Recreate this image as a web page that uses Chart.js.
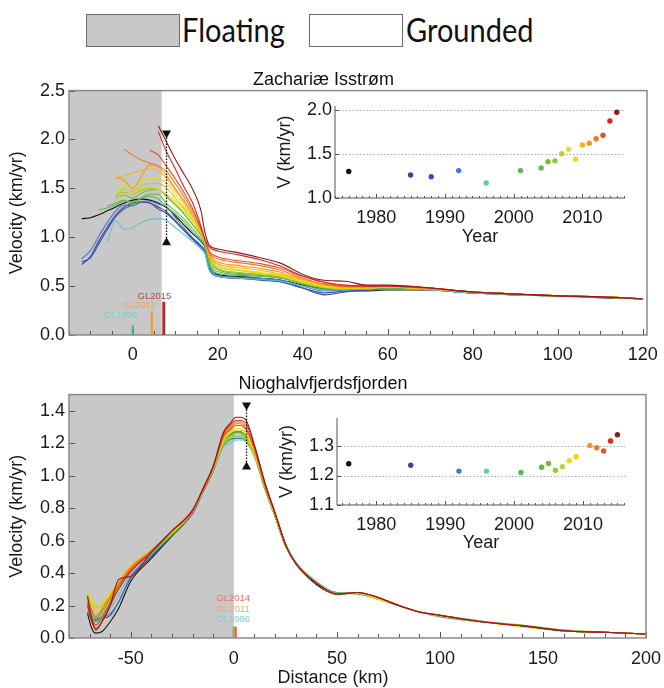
<!DOCTYPE html>
<html>
<head>
<meta charset="utf-8">
<script src="https://cdn.jsdelivr.net/npm/chart.js@4.4.1/dist/chart.umd.min.js"></script>
<style>
  body { margin: 0; width: 664px; height: 688px; background: #fff; position: relative; overflow: hidden; }
  canvas { position: absolute; }
  .key { position: absolute; top: 14px; width: 94px; height: 33px; box-sizing: border-box; border: 1.5px solid #6a6a6a; }
  .keytext { position: absolute; top: 12px; font-family: Lato, sans-serif; font-size: 29px; line-height: 36px; color: #111; transform: scaleY(1.12); transform-origin: 0 50%; }
</style>
</head>
<body>
<div class="key" style="left:86px;background:#c8c8c8"></div>
<div class="keytext" style="left:182px">Floating</div>
<div class="key" style="left:309px;background:#fff"></div>
<div class="keytext" style="left:406px">Grounded</div>
<canvas id="zach" width="664" height="310" style="left:0;top:60px"></canvas>
<canvas id="zachInset" width="380" height="160" style="left:270px;top:95px"></canvas>
<canvas id="nio" width="664" height="323" style="left:0;top:365px"></canvas>
<canvas id="nioInset" width="380" height="160" style="left:272px;top:407px"></canvas>
<script>
// Zachariæ Isstrøm: velocity profiles along the flow line
const zachYears = [1976, 1985, 1988, 1992, 1996, 2001, 2004, 2005, 2006, 2007, 2008, 2009, 2010, 2011, 2012, 2013, 2014, 2015];
const zachColors = ['#111111', '#4b3c9c', '#3550b2', '#3a7ad0', '#5ec8c6', '#5cb84a', '#64b83c', '#78c034', '#8cc43a', '#b6d22c', '#e4dc1e', '#f6d400', '#f8b414', '#f89622', '#f27622', '#e8501e', '#e22222', '#8e1c1c'];
const zachKm = [-12, -10, -8, -6, -4, -2, 0, 2, 4, 6, 8, 10, 12, 14, 16, 17, 18, 20, 25, 30, 35, 40, 45, 50, 55, 60, 70, 80, 90, 100, 110, 120];
const z1976 = [1.19, 1.20, 1.23, 1.27, 1.31, 1.35, 1.38, 1.39, 1.38, 1.35, 1.30, 1.22, 1.13, 1.04, 0.96, 0.90, 0.72, 0.62, 0.60, 0.58, 0.56, 0.51, 0.47, 0.45, 0.45, 0.46, 0.46, 0.44, 0.42, 0.40, 0.39, 0.37];
const z1985 = [0.72, 0.80, 0.96, 1.10, 1.23, 1.31, 1.35, 1.36, 1.35, 1.31, 1.26, 1.17, 1.08, 0.99, 0.91, 0.85, 0.68, 0.60, 0.58, 0.57, 0.55, 0.48, 0.41, 0.44, 0.46, 0.47, 0.46, 0.43, 0.41, 0.40, 0.39, 0.37];
const z1988 = [0.75, 0.79, 0.93, 1.08, 1.21, 1.29, 1.33, 1.36, 1.35, 1.29, 1.24, 1.16, 1.07, 0.98, 0.90, 0.84, 0.67, 0.60, 0.58, 0.56, 0.54, 0.48, 0.43, 0.45, 0.46, 0.47, 0.46, 0.43, 0.41, 0.40, 0.38, 0.37];
const z1992 = [0.78, 0.86, 1.01, 1.15, 1.27, 1.33, 1.32, 1.36, 1.37, 1.34, 1.31, 1.20, 1.10, 1.00, 0.92, 0.86, 0.69, 0.61, 0.59, 0.58, 0.56, 0.50, 0.45, 0.46, 0.47, 0.48, 0.46, 0.43, 0.41, 0.40, 0.39, 0.37];
const z1996 = [null, null, null, 0.95, 1.17, 1.08, 1.10, 1.15, 1.18, 1.19, 1.17, 1.10, 1.03, 0.96, 0.88, 0.83, 0.66, 0.60, 0.58, 0.57, 0.55, 0.50, 0.46, 0.46, 0.47, 0.47, 0.46, 0.43, 0.41, 0.40, 0.39, 0.37];
const z2001 = [null, null, 1.28, 1.30, 1.33, 1.37, 1.36, 1.40, 1.42, 1.39, 1.31, 1.24, 1.16, 1.06, 0.97, 0.91, 0.72, 0.63, 0.61, 0.60, 0.58, 0.52, 0.47, 0.47, 0.47, 0.48, 0.47, 0.44, 0.42, 0.40, 0.39, 0.37];
const z2004 = [null, null, null, 1.32, 1.35, 1.38, 1.33, 1.40, 1.44, 1.44, 1.34, 1.27, 1.19, 1.09, 0.99, 0.93, 0.74, 0.65, 0.62, 0.61, 0.58, 0.53, 0.48, 0.47, 0.48, 0.48, 0.47, 0.44, 0.42, 0.40, 0.39, 0.37];
const z2005 = [null, null, null, null, 1.40, 1.43, 1.40, 1.45, 1.48, 1.49, 1.41, 1.33, 1.24, 1.13, 1.02, 0.95, 0.77, 0.67, 0.63, 0.62, 0.59, 0.53, 0.49, 0.47, 0.48, 0.49, 0.47, 0.44, 0.42, 0.40, 0.39, 0.37];
const z2006 = [null, null, null, null, 1.42, 1.46, 1.44, 1.48, 1.50, 1.49, 1.42, 1.34, 1.25, 1.14, 1.03, 0.95, 0.78, 0.68, 0.64, 0.62, 0.60, 0.54, 0.49, 0.48, 0.48, 0.49, 0.47, 0.44, 0.42, 0.40, 0.39, 0.37];
const z2007 = [null, null, null, null, 1.42, 1.50, 1.47, 1.53, 1.55, 1.55, 1.50, 1.40, 1.30, 1.18, 1.05, 0.96, 0.80, 0.70, 0.66, 0.63, 0.60, 0.54, 0.50, 0.48, 0.49, 0.49, 0.47, 0.44, 0.42, 0.40, 0.39, 0.37];
const z2008 = [null, null, null, null, 1.45, 1.55, 1.52, 1.58, 1.60, 1.60, 1.55, 1.44, 1.33, 1.21, 1.08, 0.97, 0.82, 0.72, 0.67, 0.64, 0.61, 0.55, 0.50, 0.48, 0.49, 0.49, 0.47, 0.44, 0.42, 0.40, 0.39, 0.37];
const z2009 = [null, null, null, null, 1.38, 1.45, 1.45, 1.50, 1.51, 1.49, 1.44, 1.37, 1.28, 1.17, 1.05, 0.96, 0.80, 0.70, 0.66, 0.63, 0.60, 0.54, 0.49, 0.48, 0.48, 0.49, 0.47, 0.44, 0.42, 0.40, 0.39, 0.37];
const z2010 = [null, null, null, null, 1.60, 1.63, 1.66, 1.68, 1.70, 1.68, 1.60, 1.48, 1.36, 1.22, 1.06, 0.96, 0.80, 0.73, 0.69, 0.66, 0.62, 0.56, 0.51, 0.49, 0.49, 0.50, 0.47, 0.44, 0.42, 0.40, 0.39, 0.37];
const z2011 = [null, null, null, null, 1.62, 1.58, 1.50, 1.62, 1.74, 1.72, 1.63, 1.50, 1.38, 1.24, 1.08, 0.97, 0.82, 0.75, 0.71, 0.68, 0.64, 0.57, 0.52, 0.49, 0.49, 0.50, 0.47, 0.44, 0.42, 0.40, 0.39, 0.37];
const z2012 = [null, null, null, null, null, 1.90, 1.84, 1.79, 1.76, 1.73, 1.67, 1.55, 1.42, 1.27, 1.09, 0.97, 0.84, 0.78, 0.74, 0.71, 0.66, 0.58, 0.52, 0.50, 0.50, 0.50, 0.48, 0.44, 0.42, 0.40, 0.39, 0.37];
const z2013 = [null, null, null, null, null, null, null, null, 1.89, 1.84, 1.72, 1.60, 1.46, 1.30, 1.10, 0.98, 0.86, 0.80, 0.76, 0.73, 0.68, 0.60, 0.54, 0.50, 0.50, 0.50, 0.48, 0.44, 0.42, 0.40, 0.39, 0.37];
const z2014 = [null, null, null, null, null, null, null, null, null, 2.08, 1.87, 1.70, 1.52, 1.36, 1.12, 0.98, 0.90, 0.86, 0.82, 0.77, 0.70, 0.60, 0.54, 0.51, 0.50, 0.50, 0.48, 0.44, 0.42, 0.40, 0.39, null];
const z2015 = [null, null, null, null, null, null, null, null, null, 2.14, 1.97, 1.80, 1.65, 1.50, 1.28, 1.05, 0.92, 0.88, 0.84, 0.79, 0.73, 0.62, 0.56, 0.55, 0.51, 0.51, 0.48, 0.44, 0.42, 0.40, 0.39, 0.37];
const zachSeries = [z1976, z1985, z1988, z1992, z1996, z2001, z2004, z2005, z2006, z2007, z2008, z2009, z2010, z2011, z2012, z2013, z2014, z2015];
// speed at the marker position, per year (inset)
const zachInsetV = [1.30, 1.26, 1.24, 1.31, 1.17, 1.31, 1.34, 1.41, 1.42, 1.50, 1.55, 1.44, 1.60, 1.62, 1.67, 1.71, 1.87, 1.97];

// Nioghalvfjerdsfjorden
const nioYears = [1976, 1985, 1992, 1996, 2001, 2004, 2005, 2006, 2007, 2008, 2009, 2011, 2012, 2013, 2014, 2015];
const nioColors = ['#111111', '#4b3c9c', '#3a7ad0', '#5ec8c6', '#5cb84a', '#64b83c', '#70bc36', '#96c83a', '#b6d22c', '#e4dc1e', '#f6d400', '#f89622', '#f27622', '#e8501e', '#e22222', '#8e1c1c'];
const nioKm = [-71, -69, -67, -64, -60, -56, -50, -40, -30, -20, -15, -10, -5, -2, 1, 3, 6, 10, 15, 20, 25, 30, 40, 50, 60, 70, 80, 90, 100, 120, 140, 160, 180, 200];
const n1976 = [0.15, 0.06, 0.03, 0.04, 0.10, 0.18, 0.35, 0.49, 0.63, 0.77, 0.90, 1.03, 1.20, 1.25, 1.27, 1.27, 1.24, 1.14, 0.93, 0.75, 0.57, 0.46, 0.33, 0.27, 0.28, 0.24, 0.20, 0.16, 0.14, 0.10, 0.075, 0.045, 0.035, 0.025];
const n1985 = [0.16, 0.12, 0.11, 0.12, 0.14, 0.22, 0.37, 0.50, 0.63, 0.77, 0.90, 1.03, 1.21, 1.25, 1.26, 1.26, 1.235, 1.14, 0.93, 0.75, 0.57, 0.46, 0.34, 0.27, 0.28, 0.24, 0.20, 0.16, 0.14, 0.10, 0.075, 0.045, 0.035, 0.025];
const n1992 = [0.16, 0.13, 0.12, 0.13, 0.15, 0.22, 0.38, 0.51, 0.64, 0.77, 0.90, 1.03, 1.19, 1.22, 1.23, 1.23, 1.215, 1.12, 0.92, 0.75, 0.58, 0.47, 0.34, 0.28, 0.28, 0.24, 0.20, 0.16, 0.14, 0.105, 0.075, 0.045, 0.035, 0.025];
const n1996 = [0.17, 0.12, 0.10, 0.12, 0.18, 0.26, 0.40, 0.52, 0.64, 0.78, 0.90, 1.03, 1.18, 1.20, 1.22, 1.22, 1.215, 1.13, 0.93, 0.76, 0.58, 0.47, 0.35, 0.28, 0.28, 0.24, 0.20, 0.16, 0.14, 0.105, 0.075, 0.045, 0.035, 0.025];
const n2001 = [0.22, 0.14, 0.10, 0.14, 0.22, 0.30, 0.42, 0.52, 0.64, 0.78, 0.90, 1.03, 1.19, 1.22, 1.24, 1.24, 1.21, 1.12, 0.92, 0.75, 0.58, 0.46, 0.34, 0.28, 0.27, 0.24, 0.20, 0.16, 0.13, 0.10, 0.08, 0.05, 0.035, 0.025];
const n2004 = [0.20, 0.12, 0.08, 0.13, 0.22, 0.30, 0.42, 0.52, 0.64, 0.78, 0.91, 1.04, 1.20, 1.24, 1.26, 1.26, 1.23, 1.13, 0.93, 0.76, 0.58, 0.46, 0.34, 0.27, 0.28, 0.24, 0.20, 0.16, 0.14, 0.10, 0.075, 0.045, 0.035, 0.025];
const n2005 = [0.24, 0.16, 0.12, 0.16, 0.24, 0.32, 0.43, 0.53, 0.64, 0.78, 0.91, 1.04, 1.21, 1.25, 1.27, 1.27, 1.24, 1.14, 0.93, 0.76, 0.58, 0.46, 0.34, 0.27, 0.28, 0.24, 0.20, 0.16, 0.14, 0.10, 0.075, 0.045, 0.035, 0.025];
const n2006 = [0.27, 0.22, 0.19, 0.20, 0.26, 0.33, 0.44, 0.53, 0.65, 0.78, 0.91, 1.04, 1.20, 1.23, 1.25, 1.25, 1.22, 1.12, 0.93, 0.75, 0.57, 0.46, 0.34, 0.27, 0.28, 0.24, 0.20, 0.16, 0.14, 0.10, 0.075, 0.045, 0.035, 0.025];
const n2007 = [0.26, 0.20, 0.18, 0.20, 0.27, 0.34, 0.44, 0.54, 0.65, 0.78, 0.91, 1.04, 1.21, 1.24, 1.26, 1.26, 1.23, 1.13, 0.93, 0.76, 0.58, 0.46, 0.34, 0.27, 0.28, 0.24, 0.20, 0.16, 0.14, 0.10, 0.075, 0.045, 0.035, 0.025];
const n2008 = [0.28, 0.24, 0.20, 0.22, 0.28, 0.35, 0.45, 0.54, 0.65, 0.78, 0.91, 1.05, 1.22, 1.26, 1.28, 1.28, 1.25, 1.14, 0.94, 0.76, 0.58, 0.46, 0.34, 0.27, 0.28, 0.24, 0.20, 0.16, 0.14, 0.10, 0.07, 0.045, 0.035, 0.025];
const n2009 = [0.27, 0.22, 0.18, 0.21, 0.27, 0.34, 0.44, 0.54, 0.65, 0.78, 0.91, 1.05, 1.23, 1.27, 1.29, 1.29, 1.26, 1.15, 0.94, 0.76, 0.58, 0.46, 0.34, 0.27, 0.28, 0.24, 0.20, 0.16, 0.14, 0.10, 0.07, 0.045, 0.035, 0.025];
const n2011 = [0.25, 0.18, 0.14, 0.18, 0.26, 0.34, 0.44, 0.54, 0.66, 0.78, 0.91, 1.05, 1.25, 1.30, 1.33, 1.33, 1.30, 1.17, 0.95, 0.77, 0.58, 0.46, 0.34, 0.27, 0.28, 0.25, 0.20, 0.16, 0.14, 0.10, 0.075, 0.045, 0.035, 0.025];
const n2012 = [0.24, 0.17, 0.13, 0.17, 0.25, 0.33, 0.43, 0.54, 0.66, 0.78, 0.91, 1.05, 1.25, 1.29, 1.32, 1.32, 1.29, 1.17, 0.95, 0.77, 0.58, 0.46, 0.34, 0.27, 0.28, 0.25, 0.20, 0.16, 0.14, 0.10, 0.075, 0.045, 0.035, 0.025];
const n2013 = [0.22, 0.12, 0.08, 0.12, 0.22, 0.32, 0.42, 0.53, 0.66, 0.78, 0.91, 1.05, 1.24, 1.28, 1.31, 1.31, 1.28, 1.16, 0.94, 0.77, 0.58, 0.46, 0.34, 0.27, 0.28, 0.25, 0.20, 0.16, 0.14, 0.10, 0.075, 0.045, 0.035, 0.025];
const n2014 = [0.20, 0.10, 0.06, 0.10, 0.20, 0.30, 0.41, 0.53, 0.66, 0.79, 0.92, 1.06, 1.26, 1.31, 1.34, 1.34, 1.32, 1.18, 0.96, 0.77, 0.58, 0.46, 0.34, 0.27, 0.28, 0.25, 0.20, 0.16, 0.14, 0.10, 0.075, 0.045, 0.035, 0.025];
const n2015 = [0.26, 0.12, 0.05, 0.10, 0.20, 0.36, 0.38, 0.53, 0.66, 0.79, 0.92, 1.06, 1.27, 1.32, 1.36, 1.36, 1.34, 1.19, 0.96, 0.77, 0.58, 0.46, 0.34, 0.27, 0.28, 0.25, 0.20, 0.16, 0.14, 0.10, 0.075, 0.045, 0.035, 0.025];
const nioSeries = [n1976, n1985, n1992, n1996, n2001, n2004, n2005, n2006, n2007, n2008, n2009, n2011, n2012, n2013, n2014, n2015];
const nioInsetV = [1.24, 1.235, 1.215, 1.215, 1.21, 1.228, 1.241, 1.218, 1.23, 1.25, 1.264, 1.302, 1.294, 1.283, 1.317, 1.338];

Chart.defaults.font.family = '"Liberation Sans", Arial, sans-serif';
Chart.defaults.color = '#1a1a1a';

// shading, frame, inward ticks, markers and grounding-line labels
const decor = {
  id: 'decor',
  beforeDatasetsDraw(chart, args, o) {
    const { ctx, chartArea: a, scales: { x, y } } = chart;
    ctx.save();
    if (o.floatEnd !== undefined) {
      ctx.fillStyle = '#c8c8c8';
      ctx.fillRect(a.left, a.top, x.getPixelForValue(o.floatEnd) - a.left, a.bottom - a.top);
    }
    if (o.dotted) {
      ctx.strokeStyle = '#a8a8a8';
      ctx.lineWidth = 1;
      ctx.setLineDash([1.5, 2]);
      y.ticks.forEach(t => {
        if (t.value <= y.min + 1e-6) return;
        const py = Math.round(y.getPixelForValue(t.value)) + 0.5;
        ctx.beginPath(); ctx.moveTo(a.left, py); ctx.lineTo(a.right, py); ctx.stroke();
      });
    }
    ctx.restore();
  },
  afterDatasetsDraw(chart, args, o) {
    const { ctx, chartArea: a, scales: { x, y } } = chart;
    ctx.save();
    ctx.setLineDash([]);
    ctx.strokeStyle = o.tickColor;
    ctx.lineWidth = 1;
    x.ticks.forEach(t => {
      const px = Math.round(x.getPixelForValue(t.value)) + 0.5;
      const len = t.label !== '' ? o.major : o.minor;
      ctx.beginPath(); ctx.moveTo(px, a.bottom); ctx.lineTo(px, a.bottom - len); ctx.stroke();
    });
    y.ticks.forEach(t => {
      const py = Math.round(y.getPixelForValue(t.value)) + 0.5;
      ctx.beginPath(); ctx.moveTo(a.left, py); ctx.lineTo(a.left + o.major, py); ctx.stroke();
    });
    ctx.strokeStyle = o.frameColor;
    ctx.lineWidth = o.frameWidth;
    if (o.box) {
      ctx.strokeRect(a.left, a.top, a.right - a.left, a.bottom - a.top);
    } else {
      ctx.beginPath(); ctx.moveTo(a.left, a.top); ctx.lineTo(a.left, a.bottom); ctx.lineTo(a.right, a.bottom); ctx.stroke();
    }
    if (o.gl) {
      ctx.font = '9.5px "Liberation Sans", Arial, sans-serif';
      ctx.textAlign = 'center';
      ctx.textBaseline = 'middle';
      o.gl.forEach(g => {
        const px = x.getPixelForValue(g.km);
        ctx.fillStyle = g.bar;
        ctx.fillRect(px - g.w / 2, y.getPixelForValue(g.top), g.w, a.bottom - y.getPixelForValue(g.top));
        ctx.fillStyle = g.text;
        ctx.fillText(g.name, x.getPixelForValue(g.lx), y.getPixelForValue(g.ly));
      });
    }
    if (o.marker) {
      const m = o.marker;
      const px = Math.round(x.getPixelForValue(m.km)) + 0.5;
      const pt = y.getPixelForValue(m.top);
      const pb = y.getPixelForValue(m.bottom);
      ctx.strokeStyle = '#111';
      ctx.lineWidth = 1.3;
      ctx.setLineDash([1.5, 1.5]);
      ctx.beginPath(); ctx.moveTo(px, pt); ctx.lineTo(px, pb); ctx.stroke();
      ctx.setLineDash([]);
      ctx.fillStyle = '#111';
      ctx.beginPath(); ctx.moveTo(px - 4.5, pt - 4); ctx.lineTo(px + 4.5, pt - 4); ctx.lineTo(px, pt + 4); ctx.closePath(); ctx.fill();
      ctx.beginPath(); ctx.moveTo(px - 4.5, pb + 4); ctx.lineTo(px + 4.5, pb + 4); ctx.lineTo(px, pb - 4); ctx.closePath(); ctx.fill();
    }
    if (o.xTitle) {
      ctx.fillStyle = '#1a1a1a';
      ctx.font = '18px "Liberation Sans", Arial, sans-serif';
      ctx.textAlign = 'center';
      ctx.textBaseline = 'middle';
      ctx.fillText(o.xTitle.text, o.xTitle.x, o.xTitle.y);
    }
    ctx.restore();
  }
};

// fixed axis boxes, so the plot areas land where the figure has them
function fixBox(size, horizontal) {
  return s => {
    if (horizontal) s.height = size; else s.width = size;
    s.paddingLeft = 0; s.paddingRight = 0; s.paddingTop = 0; s.paddingBottom = 0;
  };
}

function mainChart(id, km, years, colors, series, o) {
  return new Chart(document.getElementById(id), {
    type: 'line',
    data: {
      datasets: series.map((vals, i) => ({
        label: String(years[i]),
        data: km.map((x, j) => ({ x, y: vals[j] })),
        borderColor: colors[i],
        borderWidth: 1.1,
        pointRadius: 0,
        cubicInterpolationMode: 'monotone',
        order: series.length - i
      }))
    },
    options: {
      responsive: false,
      animation: false,
      layout: { padding: { left: 0, right: o.padRight, top: 0, bottom: 0 } },
      scales: {
        x: {
          type: 'linear', min: o.xMin, max: o.xMax,
          grid: { display: false, drawTicks: false }, border: { display: false },
          ticks: {
            stepSize: o.xStep, includeBounds: false, autoSkip: false, maxRotation: 0,
            padding: o.xPad, font: { size: 18 },
            callback: v => (v % o.xLabelEvery === 0 ? String(v) : '')
          },
          afterFit: fixBox(o.xHeight, true)
        },
        y: {
          min: o.yMin, max: o.yMax,
          grid: { display: false, drawTicks: false }, border: { display: false },
          ticks: { stepSize: o.yStep, includeBounds: false, padding: 4, font: { size: 18 }, callback: v => v.toFixed(1) },
          title: { display: true, text: 'Velocity (km/yr)', font: { size: 18 }, padding: { top: 6, bottom: 0 } },
          afterFit: fixBox(69, false)
        }
      },
      plugins: {
        legend: { display: false },
        tooltip: { enabled: false },
        title: { display: true, text: o.title, font: { size: 18, weight: 'normal' }, color: '#111', padding: { top: o.titlePad, bottom: 0 } },
        decor: Object.assign({ tickColor: '#555', frameColor: '#8a8a8a', frameWidth: 1.5, box: true, major: 6, minor: 4 }, o.decor)
      }
    },
    plugins: [decor]
  });
}

function insetChart(id, years, vals, colors, o) {
  return new Chart(document.getElementById(id), {
    type: 'scatter',
    data: {
      datasets: [{
        data: years.map((x, i) => ({ x, y: vals[i] })),
        pointBackgroundColor: colors,
        pointBorderWidth: 0,
        pointRadius: 2.7
      }]
    },
    options: {
      responsive: false,
      animation: false,
      layout: { padding: { left: 0, right: o.padRight, top: 11, bottom: 0 } },
      scales: {
        x: {
          type: 'linear', min: o.xMin, max: o.xMax,
          grid: { display: false, drawTicks: false }, border: { display: false },
          ticks: {
            stepSize: 1, includeBounds: false, autoSkip: false, maxRotation: 0, padding: 9, font: { size: 18 },
            callback: v => (v % 10 === 0 ? String(v) : '')
          },
          title: { display: true, text: 'Year', font: { size: 18 }, padding: { top: 0, bottom: o.yearPad } },
          afterFit: fixBox(o.xHeight, true)
        },
        y: {
          min: o.yMin, max: o.yMax,
          grid: { display: false, drawTicks: false }, border: { display: false },
          ticks: { stepSize: o.yStep, includeBounds: false, padding: 3, font: { size: 18 }, callback: v => v.toFixed(1) },
          title: { display: true, text: 'V (km/yr)', font: { size: 18 }, padding: { top: 4, bottom: 0 } },
          afterFit: fixBox(65, false)
        }
      },
      plugins: {
        legend: { display: false },
        tooltip: { enabled: false },
        decor: { dotted: true, box: false, tickColor: '#555', frameColor: '#555', frameWidth: 1, major: 4, minor: 2 }
      }
    },
    plugins: [decor]
  });
}

mainChart('zach', zachKm, zachYears, zachColors, zachSeries, {
  title: 'Zachariæ Isstrøm', titlePad: 9,
  xMin: -15, xMax: 121, xStep: 5, xLabelEvery: 20, xPad: 9, xHeight: 35, padRight: 17,
  yMin: 0, yMax: 2.5, yStep: 0.5,
  decor: {
    floatEnd: 6.8,
    marker: { km: 7.9, top: 2.05, bottom: 0.96 },
    gl: [
      { name: 'GL1996', km: 0, top: 0.1, lx: -2.9, ly: 0.2, bar: '#3fb0a8', text: '#74d2ca', w: 2 },
      { name: 'GL2011', km: 4.5, top: 0.24, lx: 1.45, ly: 0.3, bar: '#f8961c', text: '#f8a444', w: 2 },
      { name: 'GL2015', km: 7.3, top: 0.34, lx: 5.1, ly: 0.39, bar: '#a83030', text: '#b04a4a', w: 3 }
    ]
  }
});

insetChart('zachInset', zachYears, zachInsetV, zachColors, {
  xMin: 1974, xMax: 2016.2, yMin: 1.0, yMax: 2.04, yStep: 0.5,
  padRight: 25, xHeight: 57, yearPad: 7
});

mainChart('nio', nioKm, nioYears, nioColors, nioSeries, {
  title: 'Nioghalvfjerdsfjorden', titlePad: 8,
  xMin: -80, xMax: 200, xStep: 10, xLabelEvery: 50, xPad: 10, xHeight: 50, padRight: 18,
  yMin: 0, yMax: 1.5, yStep: 0.2,
  decor: {
    floatEnd: 0,
    marker: { km: 6, top: 1.426, bottom: 1.063 },
    gl: [
      { name: 'GL1996', km: -0.2, top: 0.07, lx: -0.3, ly: 0.117, bar: '#4cc0c0', text: '#72d6d0', w: 2 },
      { name: 'GL2011', km: 0.5, top: 0.07, lx: -0.3, ly: 0.178, bar: '#f89a2a', text: '#f8aa50', w: 2 },
      { name: 'GL2014', km: 0.9, top: 0.07, lx: -0.3, ly: 0.246, bar: '#ee5a3a', text: '#ee7060', w: 2 }
    ],
    xTitle: { text: 'Distance (km)', x: 333, y: 313 }
  }
});

insetChart('nioInset', nioYears, nioInsetV, nioColors, {
  xMin: 1974.3, xMax: 2016.1, yMin: 1.1, yMax: 1.395, yStep: 0.1,
  padRight: 27, xHeight: 62, yearPad: 13
});
</script>
</body>
</html>
